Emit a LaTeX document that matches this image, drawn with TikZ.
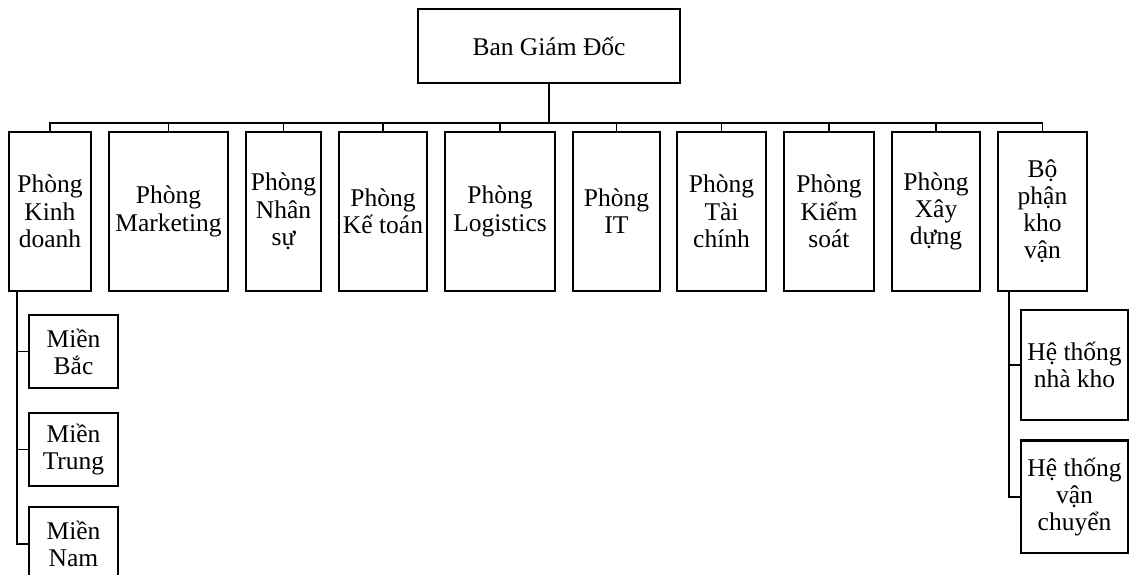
\documentclass[tikz,border=0pt]{standalone}
\usepackage{fontspec}
\setmainfont{Liberation Serif}
\usetikzlibrary{calc}

\tikzset{
  unitbox/.style={draw=black,line width=2.4pt,inner sep=0pt,align=center,
    font=\fontsize{25.5}{27.2}\selectfont},
  link/.style={draw=black,line width=1.7pt,line join=miter},
}

\begin{document}
\begin{tikzpicture}[x=1pt,y=-1pt]
  \useasboundingbox (0,0) rectangle (1130,575);

  % board of directors
  \node[unitbox,minimum width=262pt,minimum height=74pt] (bgd) at (549,46.3) {Ban Giám Đốc};

  % departments in one row
  \foreach \dept/\cx/\bw/\txt in {
      kd/50/82/{Phòng\\Kinh\\doanh},
      mkt/168.5/119/{Phòng\\Marketing},
      ns/283.5/75/{Phòng\\Nhân\\sự},
      kt/383/88/{Phòng\\Kế toán},
      lgt/500/110/{Phòng\\Logistics},
      it/616.5/87/{Phòng\\IT},
      tc/721.5/89/{Phòng\\Tài\\chính},
      ks/829/90/{Phòng\\Kiểm\\soát},
      xd/936/88/{Phòng\\Xây\\dựng},
      bkv/1042.5/89/{Bộ\\phận\\kho\\vận}}
    \node[unitbox,minimum width=\bw pt,minimum height=158.7pt] (\dept) at (\cx,211.4) {\txt};

  % regions under sales
  \node[unitbox,minimum width=89pt,minimum height=73pt] (mb) at (73.5,351.5) {Miền\\Bắc};
  \node[unitbox,minimum width=89pt,minimum height=73pt] (mt) at (73.5,449.5) {Miền\\Trung};
  \node[unitbox,minimum width=89pt,minimum height=73pt] (mn) at (73.5,543.5) {Miền\\Nam};

  % warehouse and transport under logistics unit
  \node[unitbox,minimum width=107pt,minimum height=110pt] (nk) at (1074.5,365) {Hệ thống\\nhà kho};
  \node[unitbox,minimum width=107pt,minimum height=112.5pt] (vc) at (1074.5,496.8) {Hệ thống\\vận\\chuyển};

  % bus
  \coordinate (bus) at (549,122.7);
  \draw[link,line width=2.3pt] (bgd.south) -- (bus);
  \draw[link] (kd.north) -- (kd.north |- bus) -- (bkv.north |- bus) -- (bkv.north);
  \foreach \dept in {mkt,ns,kt,lgt,it,tc,ks,xd}
    \draw[link] (\dept.north |- bus) -- (\dept.north);

  % left leg
  \coordinate (kdleg) at ([xshift=9pt]kd.south west);
  \draw[link,line width=2pt] (kdleg) |- (mn.west);
  \foreach \reg in {mb,mt}
    \draw[link] (\reg.west -| kdleg) -- (\reg.west);

  % right leg
  \coordinate (bkvleg) at ([xshift=12pt]bkv.south west);
  \draw[link,line width=2pt] (bkvleg) |- (vc.west);
  \draw[link] (nk.west -| bkvleg) -- (nk.west);
\end{tikzpicture}
\end{document}
